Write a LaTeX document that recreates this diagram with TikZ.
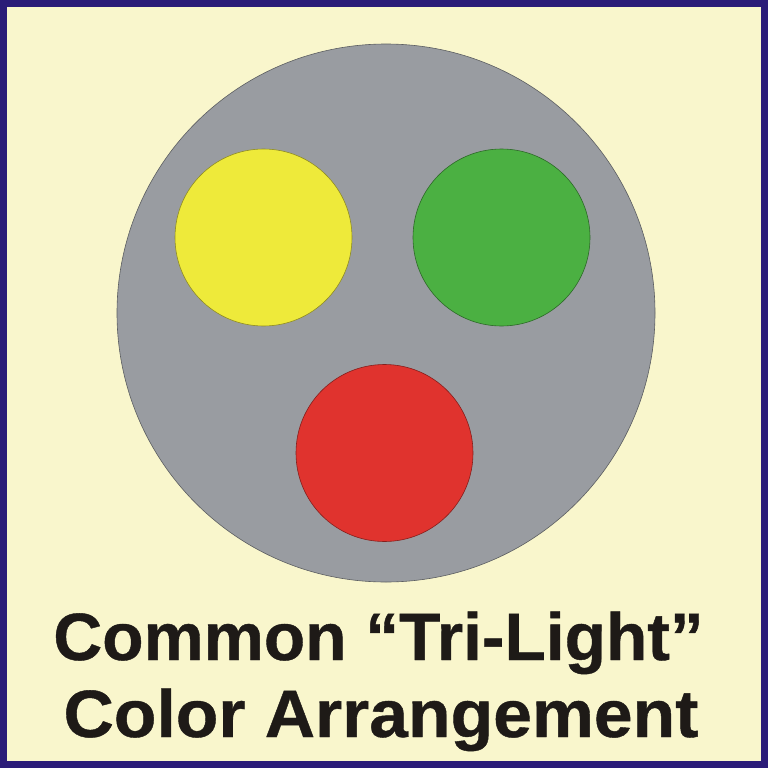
\documentclass[tikz,border=0pt]{standalone}
\usepackage{fontspec}
\setmainfont{Liberation Sans}
\newfontfamily\titlefont[BoldFeatures={FakeBold=0.6}]{Liberation Sans}
\definecolor{bgc}{HTML}{F9F6CC}
\definecolor{framec}{HTML}{2B1C78}
\definecolor{grayc}{HTML}{999CA1}
\definecolor{yellowc}{HTML}{EEEA3A}
\definecolor{greenc}{HTML}{4BB042}
\definecolor{redc}{HTML}{E0332E}
\definecolor{textc}{HTML}{1E1A17}
\tikzset{
  lamp/.style={circle, draw=#1!60!black, line width=0.6pt, inner sep=0pt, minimum size=177pt},
  title/.style={font=\titlefont\bfseries\fontsize{67}{67}\selectfont, text=textc, inner sep=0pt, anchor=base}
}
\begin{document}
\begin{tikzpicture}[x=1pt,y=-1pt]
\useasboundingbox (0,0) rectangle (768,768);
\fill[bgc] (0,0) rectangle (768,768);
\draw[framec, line width=7pt] (3.5,3.5) rectangle (764.5,764.5);
\node[circle, fill=grayc, draw=grayc!60!black, line width=0.6pt, inner sep=0pt, minimum size=538pt] (head) at (386,313) {};
\node[lamp=yellowc, fill=yellowc] (yellow) at (263.5,237.5) {};
\node[lamp=greenc, fill=greenc] (green) at (501.5,237.5) {};
\node[lamp=redc, fill=redc] (red) at (384.5,453) {};
\node[title, xscale=1.01] (t1) at (378.5,660) {Common “Tri-Light”};
\node[title, xscale=1.04] (t2) at (381,737) {Color Arrangement};
\end{tikzpicture}
\end{document}
